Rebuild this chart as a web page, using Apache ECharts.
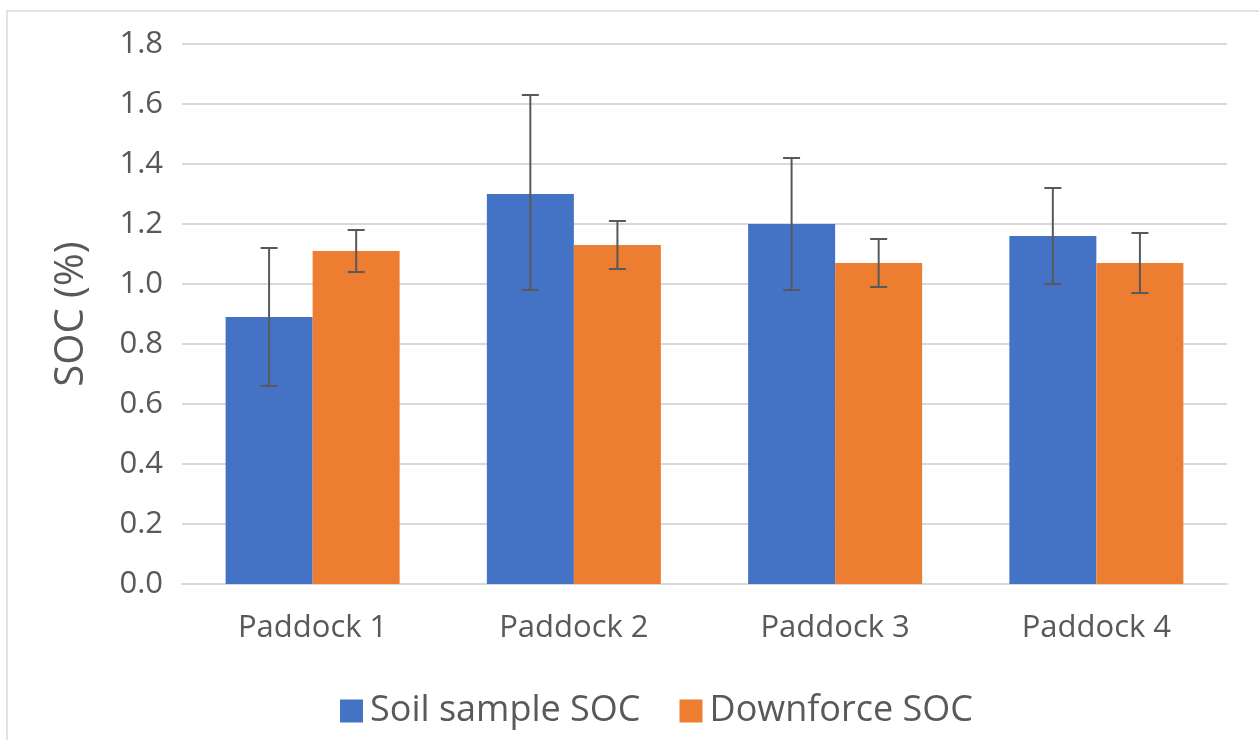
<!DOCTYPE html>
<html>
<head>
<meta charset="utf-8">
<script src="https://cdn.jsdelivr.net/npm/echarts@6/dist/echarts.min.js"></script>
<style>
html,body{margin:0;padding:0;background:#fff;}
#chart{width:1259px;height:740px;}
</style>
</head>
<body>
<div id="chart"></div>
<script>
const categories = ['Paddock 1', 'Paddock 2', 'Paddock 3', 'Paddock 4'];
const soilMean = [0.89, 1.30, 1.20, 1.16];
const soilLow = [0.66, 0.98, 0.98, 1.00];
const soilHigh = [1.12, 1.63, 1.42, 1.32];
const downMean = [1.11, 1.13, 1.07, 1.07];
const downLow = [1.04, 1.05, 0.99, 0.97];
const downHigh = [1.18, 1.21, 1.15, 1.17];
const yTicks = [0, 0.2, 0.4, 0.6, 0.8, 1.0, 1.2, 1.4, 1.6, 1.8];

const FONT = '"Open Sans", "Noto Sans", sans-serif';
const TEXT = '#595959';

function errData(low, high) {
  return categories.map((c, i) => [i, low[i], high[i]]);
}

function makeErrRender(side) {
  return function (params, api) {
    const idx = api.value(0);
    const lo = api.coord([idx, api.value(1)]);
    const hi = api.coord([idx, api.value(2)]);
    const band = api.size([1, 0])[0];
    const bw = band / 3;
    const x = lo[0] + side * bw / 2;
    const cap = 8.5;
    const style = { stroke: '#595959', lineWidth: 2 };
    return {
      type: 'group',
      children: [
        { type: 'line', shape: { x1: x, y1: lo[1], x2: x, y2: hi[1] }, style },
        { type: 'line', shape: { x1: x - cap, y1: lo[1], x2: x + cap, y2: lo[1] }, style },
        { type: 'line', shape: { x1: x - cap, y1: hi[1], x2: x + cap, y2: hi[1] }, style }
      ]
    };
  };
}

const chart = echarts.init(document.getElementById('chart'), null, { renderer: 'canvas' });
chart.setOption({
  backgroundColor: '#fff',
  animation: false,
  graphic: [{
    type: 'rect',
    shape: { x: 7, y: 11, width: 1300, height: 800 },
    style: { fill: 'none', stroke: '#d9d9d9', lineWidth: 1.5 },
    silent: true, z: -10
  }],
  grid: { left: 182, right: 32, top: 44, bottom: 156, containLabel: false },
  legend: {
    left: 335,
    top: 688,
    itemWidth: 23,
    itemHeight: 23,
    itemGap: 39,
    icon: 'rect',
    textStyle: { fontFamily: FONT, fontSize: 36, color: TEXT, padding: [0, 0, 0, 2] },
    data: ['Soil sample SOC', 'Downforce SOC']
  },
  xAxis: {
    type: 'category',
    data: categories,
    axisLine: { lineStyle: { color: '#d9d9d9', width: 2 } },
    axisTick: { show: false },
    axisLabel: { fontFamily: FONT, fontSize: 31, color: TEXT, margin: 29 }
  },
  yAxis: {
    type: 'value',
    min: 0,
    max: 1.8,
    interval: 0.2,
    name: 'SOC (%)',
    nameLocation: 'middle',
    nameGap: 90,
    nameTextStyle: { fontFamily: FONT, fontSize: 40, color: TEXT },
    axisLine: { show: false },
    axisTick: { show: false },
    splitLine: { lineStyle: { color: '#d9d9d9', width: 2 } },
    axisLabel: {
      fontFamily: FONT, fontSize: 31, color: TEXT, margin: 19,
      formatter: v => {
        const t = yTicks.find(t => Math.abs(t - v) < 1e-6);
        return (t !== undefined ? t : v).toFixed(1);
      }
    }
  },
  series: [
    {
      name: 'Soil sample SOC', type: 'bar', data: soilMean,
      barGap: '0%', barCategoryGap: '33.4%',
      itemStyle: { color: '#4472C4' }
    },
    {
      name: 'Downforce SOC', type: 'bar', data: downMean,
      barGap: '0%', barCategoryGap: '33.4%',
      itemStyle: { color: '#ED7D31' }
    },
    {
      type: 'custom', name: 'soilErr', renderItem: makeErrRender(-1),
      data: errData(soilLow, soilHigh), encode: { x: 0, y: [1, 2] }, z: 10, silent: true
    },
    {
      type: 'custom', name: 'downErr', renderItem: makeErrRender(1),
      data: errData(downLow, downHigh), encode: { x: 0, y: [1, 2] }, z: 10, silent: true
    }
  ]
});
</script>
</body>
</html>
